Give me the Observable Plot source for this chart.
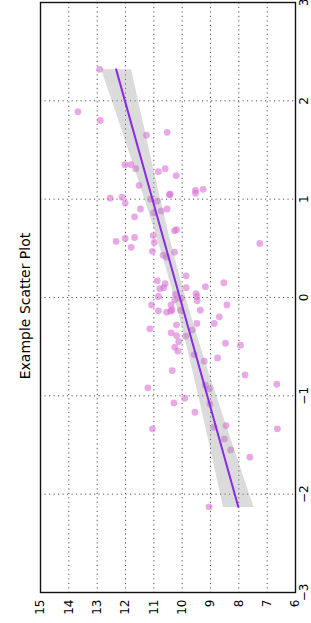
<!DOCTYPE html>
<html>
<head>
<meta charset="utf-8">
<script src="https://cdn.jsdelivr.net/npm/d3@7"></script>
<script src="https://cdn.jsdelivr.net/npm/@observablehq/plot@0.6"></script>
<style>
  html, body { margin: 0; padding: 0; background: white; overflow: hidden; }
  body { width: 311px; height: 623px; position: relative; }
  #wrap { position: absolute; left: 0; top: 0; width: 623px; height: 311px;
          transform-origin: 0 0; transform: translateY(623px) rotate(-90deg); background: white; }
  #title { position: absolute; left: 0; top: 18px; width: 634px; text-align: center;
           font-family: "DejaVu Sans", sans-serif; font-size: 14px; line-height: 1; color: #000; }
  #chart { position: absolute; left: 0; top: 0; }
</style>
</head>
<body>
<div id="wrap">
  <div id="chart"></div>
  <div id="title"></div>
</div>
<script>
const titleText = "Example Scatter Plot";
const xTicks = [-3, -2, -1, 0, 1, 2, 3];
const yTicks = [6, 7, 8, 9, 10, 11, 12, 13, 14, 15];
const xGrid = [-2, -1, 0, 1, 2];
const yGrid = [7, 8, 9, 10, 11, 12, 13, 14];

const xs = [2.32,1.89,1.80,1.65,1.68,1.35,1.35,1.31,1.28,1.31,1.24,1.14,1.09,1.06,1.10,1.05,1.045,1.01,1.02,0.96,1.00,0.98,0.90,0.82,0.86,0.88,0.90,0.68,0.69,0.63,0.57,0.60,0.61,0.56,0.51,0.47,0.55,0.43,0.41,0.46,0.17,0.22,0.14,0.09,0.10,0.10,0.11,0.15,0.01,0.03,0.04,0.01,
  -0.075,-0.075,-0.024,-0.010,-0.034,-0.075,-0.136,-0.149,-0.139,-0.125,-0.129,-0.129,-0.197,-0.264,-0.264,-0.278,-0.319,-0.329,-0.359,-0.387,-0.393,-0.448,-0.465,-0.485,-0.505,-0.546,-0.580,-0.648,-0.614,-0.743,-0.787,-0.892,-0.929,-0.882,-0.919,-1.024,-1.072,-1.082,-1.167,-1.336,-1.336,-1.302,-1.319,-1.438,-1.550,-1.624,-2.130];
const ys = [12.91,13.68,12.89,11.26,10.53,12.02,11.81,11.64,10.84,10.60,10.21,11.52,9.53,9.53,9.26,10.42,10.45,12.54,12.12,12.01,11.12,10.88,11.47,11.68,11.01,10.74,10.53,10.27,10.20,11.02,12.33,12.01,11.68,10.98,11.80,11.05,7.26,10.67,10.55,10.27,10.88,9.86,10.60,10.79,10.65,9.86,9.18,8.53,10.84,10.24,9.51,9.48,
  11.08,10.39,10.26,10.04,9.47,8.42,10.84,10.55,10.40,10.36,10.06,9.36,8.69,8.87,9.48,10.20,11.14,9.64,10.39,10.20,9.88,10.12,8.47,7.94,10.26,10.15,9.58,9.22,8.75,10.35,7.78,9.18,9.04,6.66,11.21,9.91,10.29,9.02,9.55,11.05,6.64,8.45,8.88,8.51,8.29,7.61,9.05];

const data = xs.map((x, i) => ({x, y: ys[i]}));
const fmt = d => d < 0 ? "\u2212" + Math.abs(d) : String(d);

const chart = Plot.plot({
  width: 623,
  height: 311,
  marginTop: 40,
  marginBottom: 16,
  marginLeft: 30,
  marginRight: 3,
  style: {fontFamily: "DejaVu Sans, sans-serif", fontSize: "12px", color: "#000", background: "white"},
  x: {domain: [-3, 3], ticks: xTicks, tickFormat: fmt, tickSize: 0, tickPadding: 3.5, label: null},
  y: {domain: [6, 15], ticks: yTicks, tickFormat: fmt, tickSize: 0, tickPadding: 7, label: null},
  marks: [
    Plot.ruleX(xGrid, {stroke: "#555", strokeWidth: 1, strokeDasharray: "1.2,3.3"}),
    Plot.ruleY(yGrid, {stroke: "#555", strokeWidth: 1, strokeDasharray: "1.2,3.3"}),
    Plot.dot(data, {x: "x", y: "y", r: 3.4, fill: "orchid", fillOpacity: 0.6}),
    Plot.linearRegressionY(data, {x: "x", y: "y", stroke: "#8a2be2", strokeWidth: 2, fill: "#999", fillOpacity: 0.35, ci: 0.95}),
    Plot.frame({stroke: "#111", strokeWidth: 1.4})
  ]
});
document.getElementById("chart").appendChild(chart);
document.getElementById("title").textContent = titleText;
</script>
</body>
</html>
